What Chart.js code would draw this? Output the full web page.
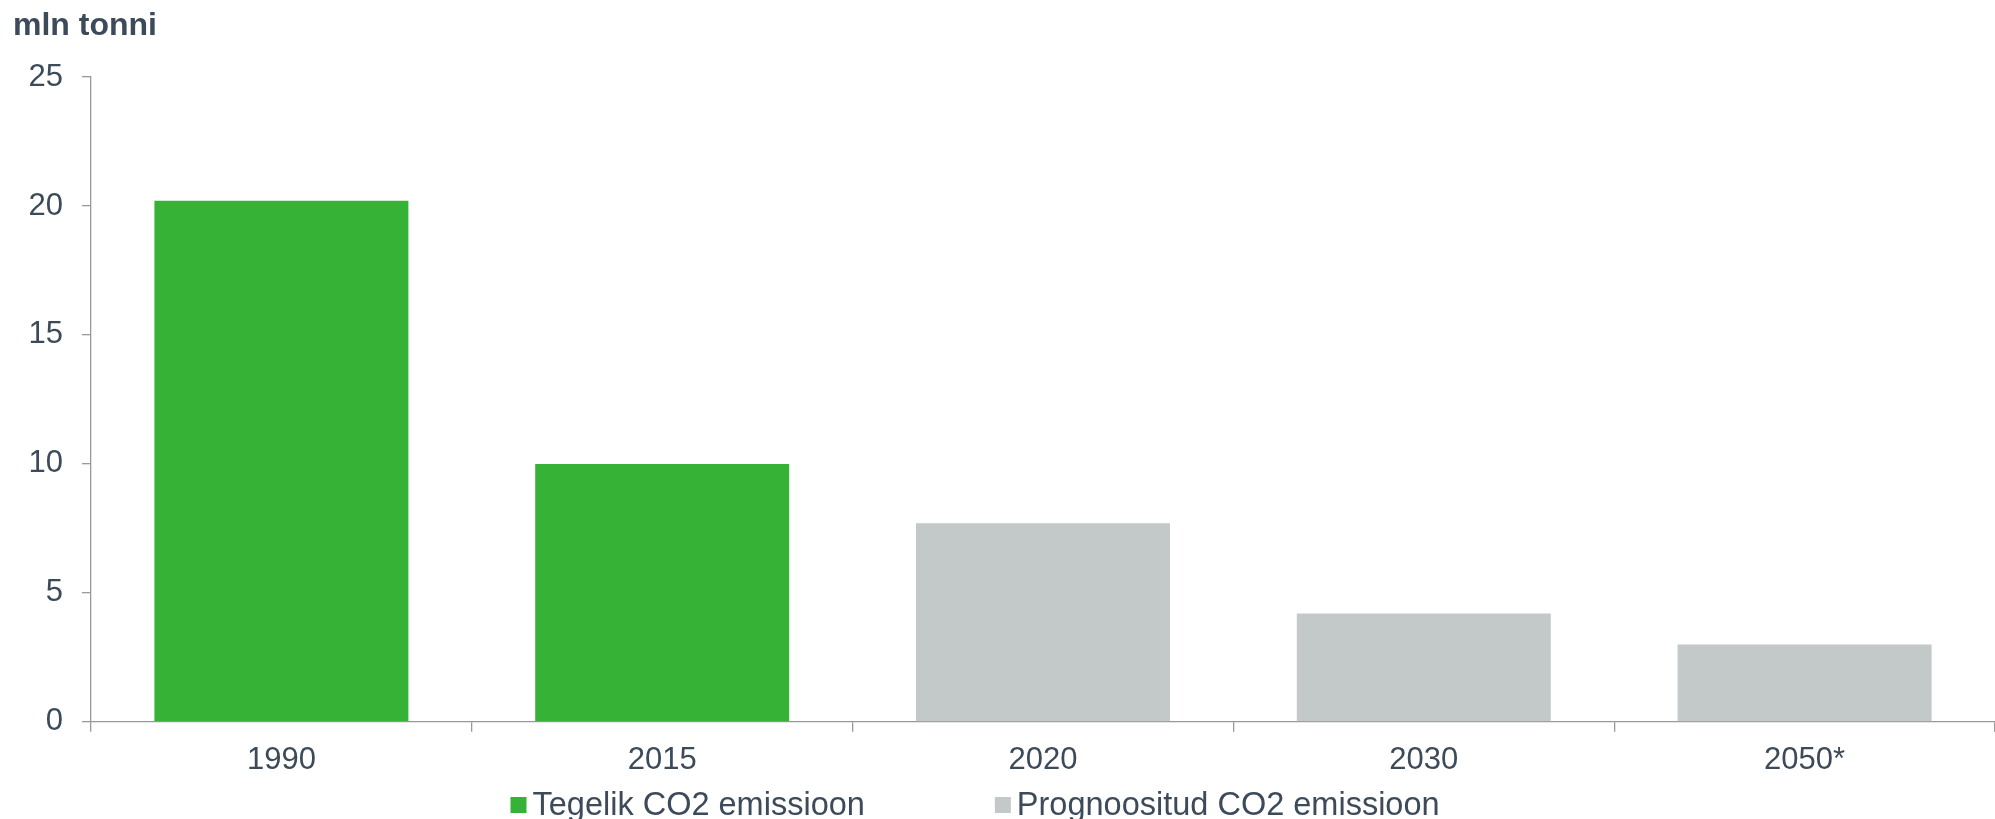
<!DOCTYPE html>
<html>
<head>
<meta charset="utf-8">
<script src="https://cdn.jsdelivr.net/npm/chart.js@4/dist/chart.umd.min.js"></script>
<style>
  html, body { margin: 0; padding: 0; background: #fff; }
  #wrap { width: 1995px; height: 819px; }
</style>
</head>
<body>
<div id="wrap"><canvas id="bar-chart"></canvas></div>
<script>
// data
var years = ["1990", "2015", "2020", "2030", "2050*"];
var actual = [20.2, 10.0, null, null, null];
var forecast = [null, null, 7.7, 4.2, 3.0];
var yTicks = [0, 5, 10, 15, 20, 25];

var textColor = "#3c4a59";
var axisColor = "#999999";
var fontFamily = "'Liberation Sans', Arial, sans-serif";

// legend drawn under the axis, items spaced like the original
var wideLegend = {
    id: "wideLegend",
    afterDraw: function(chart) {
        var ctx = chart.ctx;
        var y = 805;
        var x = chart.width / 2 - 487;
        ctx.save();
        ctx.font = "32.5px " + fontFamily;
        ctx.textBaseline = "middle";
        ctx.textAlign = "left";
        chart.data.datasets.forEach(function(ds) {
            ctx.fillStyle = ds.backgroundColor;
            ctx.fillRect(x, y - 8, 16, 16);
            ctx.fillStyle = textColor;
            ctx.fillText(ds.label, x + 22, y + 1);
            x += 22 + ctx.measureText(ds.label).width + 130;
        });
        ctx.restore();
    }
};

new Chart(document.getElementById("bar-chart"), {
    type: 'bar',
    data: {
        labels: years,
        datasets: [
            {
                label: "Tegelik CO2 emissioon",
                backgroundColor: "#36b236",
                data: actual,
                grouped: false
            }, {
                label: "Prognoositud CO2 emissioon",
                backgroundColor: "#c3c9c8",
                data: forecast,
                grouped: false
            }
        ]
    },
    plugins: [wideLegend],
    options: {
        responsive: true,
        maintainAspectRatio: false,
        animation: false,
        layout: { padding: { left: 13, right: 0, top: 0, bottom: 30 } },
        datasets: { bar: { categoryPercentage: 1, barPercentage: 0.667 } },
        plugins: {
            legend: { display: false },
            tooltip: { enabled: false },
            title: {
                display: true,
                text: 'mln tonni',
                align: 'start',
                color: textColor,
                font: { family: fontFamily, size: 32, weight: 'bold', lineHeight: 1.2 },
                padding: { top: 7, bottom: 31.6 }
            }
        },
        scales: {
            x: {
                grid: { drawOnChartArea: false, drawTicks: true, tickLength: 10, color: axisColor, lineWidth: 1.3, offset: true },
                border: { color: axisColor, width: 1.3 },
                ticks: { color: textColor, padding: 10, font: { family: fontFamily, size: 31 } }
            },
            y: {
                min: yTicks[0],
                max: yTicks[yTicks.length - 1],
                afterFit: function(scale) { scale.width = 78; },
                afterBuildTicks: function(scale) {
                    scale.ticks = yTicks.map(function(v) { return { value: v }; });
                },
                grid: { drawOnChartArea: false, drawTicks: true, tickLength: 9, color: axisColor, lineWidth: 1.3 },
                border: { color: axisColor, width: 1.3 },
                ticks: { color: textColor, padding: 19, font: { family: fontFamily, size: 31 } }
            }
        }
    }
});
</script>
</body>
</html>
